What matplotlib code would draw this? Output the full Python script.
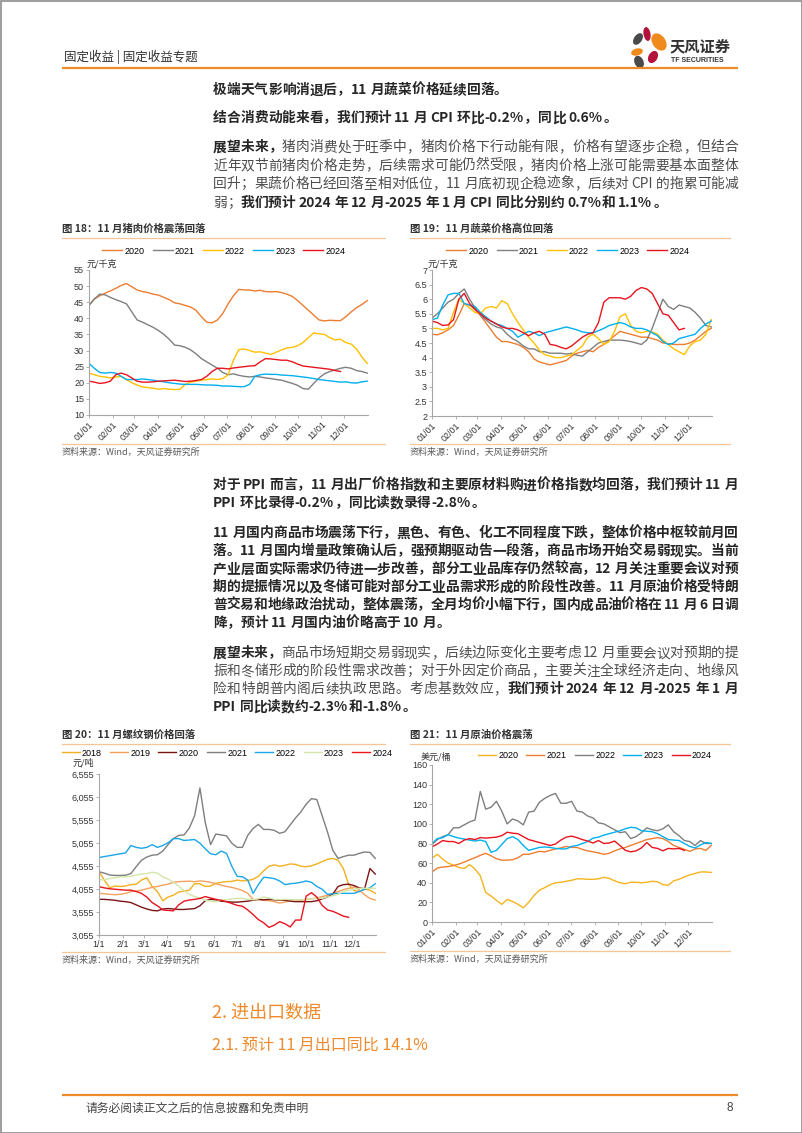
import matplotlib
matplotlib.use('Agg')
import matplotlib.pyplot as plt
from matplotlib.patches import Ellipse, Rectangle

plt.rcParams['font.family'] = ['Liberation Sans', 'Noto Sans CJK SC', 'DejaVu Sans']
CN = ['Noto Sans CJK SC', 'DejaVu Sans']

# ---------------- data ----------------
days = list(range(0, 365, 7))          # weekly samples, day of year
month_days = [0, 31, 59, 90, 120, 151, 181, 212, 243, 273, 304, 334]
month_labels = ['01/01', '02/01', '03/01', '04/01', '05/01', '06/01',
                '07/01', '08/01', '09/01', '10/01', '11/01', '12/01']
steel_month_labels = ['1/1', '2/1', '3/1', '4/1', '5/1', '6/1',
                      '7/1', '8/1', '9/1', '10/1', '11/1', '12/1']

# 图18 猪肉 元/千克
pork_years = ['2020', '2021', '2022', '2023', '2024']
pork_2020 = [44, 46, 47, 47.8, 48.5, 49.3, 50.2, 50.8, 49.8, 48.8, 48.3, 48, 47.5, 47.2, 46.5,
             45.8, 44.8, 44.5, 44, 43.5, 42.5, 40.5, 38.8, 38.6, 39.5, 41.5, 44.5, 47, 49, 48.8,
             48.8, 48.5, 48.7, 48.3, 48.2, 48.3, 48, 47.5, 46.8, 45.5, 44, 42.5, 41, 39.5, 39.2,
             39.4, 39.3, 39.3, 40.5, 42, 43.3, 44.3, 45.5]
pork_2021 = [44, 46, 47.5, 47.3, 46.5, 45.8, 45.2, 44.5, 42, 39.5, 38.8, 38, 37.2, 36.2, 35,
             33.5, 31.7, 31.5, 31, 30.2, 29, 27.5, 26.5, 25.5, 24.5, 23.2, 22.5, 22.8, 22.3, 22,
             21.8, 22, 21.8, 21.5, 21.3, 21, 20.8, 20.3, 19.8, 19.2, 18.2, 18, 19.8, 21.5, 22.8,
             23.5, 24, 24.5, 24.8, 24.5, 23.8, 23.5, 23]
pork_2022 = [23, 22.5, 22, 21.8, 21.5, 21.8, 22, 21, 20, 19.3, 18.7, 18.5, 18.3, 18, 18.2,
             18, 17.9, 18, 19.5, 20.2, 20.5, 20.8, 21, 21.2, 21, 21.3, 22.5, 27, 30.3, 30.5,
             30, 29.5, 29.6, 29.2, 28.8, 29.5, 30.2, 30.8, 31, 31.5, 32.5, 34, 35.5, 35.2, 35,
             34, 33.3, 33.5, 32.5, 32, 30.5, 28, 26]
pork_2023 = [26, 24.5, 23.2, 23, 23.2, 23, 22, 21, 21, 21, 21.2, 21, 20.8, 20.5, 20.3,
             20, 19.8, 19.6, 19.5, 19.5, 19.5, 19.4, 19.3, 19.3, 19.2, 19, 19, 18.9, 18.8, 18.8,
             19.5, 22, 22.5, 22.7, 22.6, 22.6, 22.4, 22.3, 22.2, 22, 21.8, 21.6, 21.3, 21, 20.8,
             20.6, 20.4, 20.2, 20.3, 20, 19.9, 20.3, 20.5]
pork_2024 = [20.5, 20.2, 19.8, 20, 20.5, 22.5, 23, 22.5, 21.5, 20.5, 20.2, 20.2, 20.3, 20.5, 20.6,
             20.7, 20.8, 20.6, 20.4, 20.5, 20.7, 21, 22, 23.5, 24.5, 24.5, 24.3, 24.6, 24.8, 25,
             25.2, 25.3, 26.5, 27.5, 27.4, 27.2, 27, 27, 26.5, 25.8, 25.2, 25, 24.8, 24.6, 24.4,
             24.2, 23.8, 23.5]

# 图19 蔬菜 元/千克
veg_years = ['2020', '2021', '2022', '2023', '2024']
veg_2020 = [4.8, 4.78, 4.85, 4.95, 5.1, 5.45, 5.85, 5.8, 5.65, 5.45, 5.2, 4.95, 4.7, 4.55, 4.55,
            4.5, 4.45, 4.35, 4.2, 3.95, 3.85, 3.8, 3.75, 3.8, 3.85, 3.9, 4.05, 4.15, 4.2, 4.25,
            4.2, 4.35, 4.45, 4.6, 4.75, 4.9, 4.85, 4.8, 4.75, 4.7, 4.7, 4.65, 4.6, 4.5, 4.48,
            4.45, 4.45, 4.45, 4.5, 4.6, 4.75, 4.9, 5.0]
veg_2021 = [5.35, 5.5, 5.7, 5.9, 6.0, 6.2, 6.35, 6.0, 5.7, 5.45, 5.3, 5.15, 5.05, 5.0, 4.8,
            4.65, 4.55, 4.4, 4.3, 4.3, 4.2, 4.2, 4.15, 4.15, 4.15, 4.12, 4.15, 4.08, 4.05, 4.2,
            4.35, 4.5, 4.55, 4.6, 4.6, 4.6, 4.58, 4.55, 4.5, 4.45, 4.6, 5.0, 5.5, 6.0, 5.75,
            5.65, 5.8, 5.75, 5.7, 5.55, 5.35, 5.1, 5.05]
veg_2022 = [5.0, 5.0, 4.95, 5.0, 5.55, 6.0, 5.85, 5.7, 5.55, 5.5, 5.7, 5.75, 5.7, 5.95, 5.85,
            5.5, 5.2, 4.95, 4.7, 4.5, 4.25, 4.1, 4.05, 4.0, 4.0, 4.05, 4.1, 4.25, 4.4, 4.7,
            4.8, 4.65, 4.45, 4.55, 4.9, 5.4, 5.5, 5.1, 4.9, 4.85, 4.9, 4.88, 4.8, 4.6, 4.45,
            4.3, 4.2, 4.1, 4.4, 4.55, 4.6, 4.8, 5.3]
veg_2023 = [5.3, 5.35, 5.8, 6.15, 6.2, 6.2, 5.85, 5.8, 5.75, 5.55, 5.4, 5.25, 5.15, 5.1, 5.0,
            4.9, 4.7, 4.8, 4.9, 4.85, 4.75, 4.85, 4.9, 4.95, 5.0, 5.05, 5.0, 4.95, 4.88, 4.85,
            4.85, 4.92, 5.0, 5.1, 5.15, 5.2, 5.15, 5.05, 5.0, 5.0, 4.95, 4.85, 4.75, 4.55, 4.45,
            4.5, 4.65, 4.7, 4.75, 4.8, 5.0, 5.15, 5.25]
veg_2024 = [5.25, 5.2, 5.1, 5.12, 5.3, 6.0, 6.2, 5.85, 5.65, 5.5, 5.35, 5.25, 5.15, 5.05, 5.0,
            5.0, 4.95, 4.85, 4.75, 4.85, 4.9, 4.8, 4.45, 4.42, 4.35, 4.3, 4.4, 4.55, 4.7, 4.8,
            4.85, 5.2, 5.9, 6.05, 6.05, 6.05, 6.0, 6.1, 6.3, 6.4, 6.35, 6.2, 5.85, 5.5, 5.45,
            5.2, 4.95, 5.0]

# 图20 螺纹钢 元/吨
steel_years = ['2018', '2019', '2020', '2021', '2022', '2023', '2024']
steel_2018 = [4430, 4250, 4080, 4120, 4110, 4120, 4150, 4160, 4250, 4300, 4110, 4000, 3800, 3880, 3920,
              3990, 4010, 4030, 4170, 4170, 4110, 4120, 4180, 4200, 4215, 4220, 4250, 4230, 4240, 4265,
              4330, 4450, 4550, 4580, 4550, 4570, 4600, 4590, 4550, 4540, 4560, 4600, 4650, 4700, 4720,
              4680, 4500, 4150, 4020, 4000, 4050, 4030, 3960]
steel_2019 = [3960, 3950, 3940, 3930, 3940, 3960, 4000, 4010, 4030, 4060, 4090, 4110, 4140, 4160, 4200,
              4215, 4220, 4225, 4215, 4230, 4220, 4200, 4170, 4140, 4110, 4090, 4060, 4020, 3960, 3830,
              3820, 3810, 3800, 3780, 3750, 3770, 3810, 3820, 3810, 3830, 3840, 3860, 3890, 3920, 3960,
              4000, 4040, 4070, 4100, 4030, 3930, 3850, 3815]
steel_2020 = [3830, 3830, 3820, 3810, 3790, 3780, 3760, 3710, 3660, 3620, 3590, 3580, 3620, 3630, 3620,
              3610, 3610, 3620, 3630, 3690, 3800, 3830, 3820, 3790, 3780, 3770, 3770, 3780, 3790, 3810,
              3830, 3820, 3830, 3820, 3810, 3810, 3790, 3780, 3780, 3780, 3780, 3800, 3840, 3880, 3940,
              4110, 4150, 4160, 4130, 4080, 4060, 4500, 4380]
steel_2021 = [4430, 4400, 4360, 4350, 4350, 4355, 4390, 4540, 4680, 4750, 4790, 4800, 4880, 5020, 5150,
              5220, 5230, 5380, 5650, 6250, 5500, 5020, 5250, 5230, 5210, 5050, 4960, 4960, 5220, 5370,
              5460, 5350, 5350, 5330, 5265, 5300, 5450, 5600, 5730, 5900, 6020, 6000, 5650, 5300, 4900,
              4720, 4760, 4790, 4790, 4830, 4860, 4850, 4720]
steel_2022 = [4740, 4760, 4780, 4800, 4820, 4840, 5000, 4960, 4940, 4960, 5020, 4960, 5000, 5060, 5150,
              5150, 5110, 5120, 5130, 5050, 4930, 4820, 4800, 4880, 4830, 4550, 4330, 4320, 4250, 3960,
              4150, 4310, 4300, 4280, 4230, 4150, 4170, 4180, 4200, 4230, 4200, 4110, 4050, 3940, 3950,
              3960, 3960, 3960, 3960, 4000, 4050, 4080, 4170]
steel_2023 = [4250, 4260, 4280, 4300, 4320, 4320, 4330, 4360, 4380, 4390, 4420, 4400, 4320, 4270, 4200,
              4120, 4020, 3940, 3890, 3860, 3810, 3790, 3780, 3815, 3820, 3840, 3850, 3850, 3830, 3820,
              3840, 3880, 3860, 3830, 3820, 3830, 3825, 3820, 3820, 3825, 3840, 3860, 3850, 3880, 3910,
              3940, 4000, 4030, 4050, 4070, 4070, 4070, 4070]
steel_2024 = [4105, 4080, 4060, 4050, 4040, 4030, 4030, 4000, 3960, 3880, 3760, 3690, 3600, 3590, 3580,
              3710, 3790, 3815, 3830, 3850, 3890, 3860, 3830, 3810, 3780, 3740, 3700, 3680, 3600, 3500,
              3390, 3320, 3220, 3270, 3345, 3300, 3230, 3380, 3380, 3900, 3975, 3880, 3700, 3600, 3570,
              3520, 3465, 3440]

# 图21 原油 美元/桶
oil_years = ['2020', '2021', '2022', '2023', '2024']
oil_2020 = [65, 69, 64, 60, 58, 55.5, 54.5, 58.5, 54, 47, 30, 26.5, 22, 18, 23,
            21, 18, 14.5, 20, 27, 32.5, 35, 38, 40, 40.5, 41.5, 42.5, 44, 44, 43.5,
            43.5, 44, 45.5, 44.5, 42, 40, 39, 40.5, 40.5, 40, 40.5, 41.5, 41, 38, 37.5,
            42, 43.5, 46, 48, 49.5, 51, 51, 50.5]
oil_2021 = [51, 55, 56, 56.5, 57.5, 59, 61, 63.5, 65.5, 68, 70, 67.5, 64.5, 63, 63,
            63.5, 65.5, 69, 69, 70.5, 72, 71.5, 73, 74.5, 75.5, 77, 76, 76, 74, 72.5,
            71.5, 70.5, 69, 70, 72.5, 74.5, 76, 78, 80, 82, 84, 85, 86, 85, 82,
            78, 76, 74, 72, 74.5, 75, 73, 78]
oil_2022 = [79, 84, 87, 89, 96, 96, 99, 102, 104, 133, 115, 117, 123, 113, 100,
            105, 103, 99, 112, 113, 122, 126, 129, 131, 121, 121, 123, 113, 112, 108,
            106, 101, 100, 97, 94, 91, 92, 85, 87, 91, 96, 94, 93, 95, 99,
            92, 88, 83, 82, 78, 83, 80, 80]
oil_2023 = [80, 85, 86, 89, 87, 85.5, 84.5, 83.5, 82.5, 83.5, 82, 71, 73, 79, 85,
            87, 84, 78, 73, 74.5, 76, 76.5, 76, 75, 74.5, 74.5, 77, 78, 80, 82,
            85.5, 86.5, 88.5, 90, 91.5, 93, 95, 96.5, 96, 93, 92.5, 92, 90, 87, 84,
            83.5, 83, 80, 77, 75.5, 78.5, 81, 80]
oil_2024 = [76.5, 79.5, 83, 82, 82, 80, 83.5, 85, 84, 86, 85.5, 86, 86.5, 88, 91.5,
            90.5, 90, 87, 84, 82.5, 81, 79.5, 78, 79.5, 83.5, 86.5, 87.5, 86, 84, 82.5,
            80.5, 83, 80, 80.5, 82.5, 78, 73, 71.5, 72.5, 75.5, 81, 76, 75, 72.5, 75,
            74.5, 75, 73]

# ---------------- page ----------------
W, H = 802, 1133
fig = plt.figure(figsize=(W / 100, H / 100), dpi=100)
bg = fig.add_axes([0, 0, 1, 1])
bg.set_xlim(0, W)
bg.set_ylim(H, 0)
bg.axis('off')
renderer = fig.canvas.get_renderer()

BODY = '#4d4d4d'
BOLD = '#262626'
ORANGE = '#EE8A2C'
LIGHT_OR = '#F7C497'

bg.add_patch(Rectangle((0.5, 0.5), W - 1, H - 1, fill=False, ec='#8c8c8c', lw=1.2))


def put_line(yc, segs, justify=True, x0=213, x1=738, size=9.9):
    em = size * 100 / 72
    base = yc + 0.38 * em
    items = []
    for s, b in segs:
        run = ''
        for c in s + '\0':
            if c == ' ' or c == '\0' or ord(c) >= 128:
                if run:
                    t = bg.text(0, base, run, fontsize=size, family=CN,
                                fontweight='bold' if b else 'normal',
                                color=BOLD if b else BODY, va='baseline')
                    items.append((t, t.get_window_extent(renderer).width + 1))
                    run = ''
                if c == ' ':
                    items.append((None, 2.5))
                elif c != '\0':
                    t = bg.text(0, base, c, fontsize=size, family=CN,
                                fontweight='bold' if b else 'normal',
                                color=BOLD if b else BODY, va='baseline')
                    items.append((t, em))
            else:
                run += c
    total = sum(w for _, w in items)
    extra = (x1 - x0 - total) / (len(items) - 1) if justify else 0
    x = x0
    for t, w in items:
        if t is not None:
            t.set_x(x)
        x += w + extra


# header
bg.text(64, 57, '固定收益 | 固定收益专题', fontsize=9, family=CN, color='#333333', va='center')
bg.plot([62, 738], [68, 68], color=ORANGE, lw=1.6, solid_capstyle='butt')
for (cx, cy, w, h, ang, col) in [(638, 39, 8, 13, 35, '#4a4a4a'), (647, 34, 7, 14, -10, '#B3123B'),
                                 (659, 42, 13, 19, -35, '#F08A1C'), (637, 52, 12, 7, -15, '#F08A1C'),
                                 (653, 57, 9, 13, 30, '#B3123B'), (639, 62, 9, 13, -25, '#4a4a4a')]:
    bg.add_patch(Ellipse((cx, cy), w, h, angle=ang, color=col, lw=0))
bg.text(670, 46, '天风证券', fontsize=11, family=CN, fontweight='bold', color='#333333', va='center')
bg.text(671, 61, 'TF SECURITIES', fontsize=5, fontweight='bold', color='#333333', va='center')

# text block 1
put_line(89, [('极端天气影响消退后，11 月蔬菜价格延续回落。', True)], justify=False)
put_line(117, [('结合消费动能来看，我们预计 11 月 CPI 环比-0.2%，同比 0.6%。', True)], justify=False)
put_line(146, [('展望未来，', True), ('猪肉消费处于旺季中，猪肉价格下行动能有限，价格有望逐步企稳，但结合', False)])
put_line(164.5, [('近年双节前猪肉价格走势，后续需求可能仍然受限，猪肉价格上涨可能需要基本面整体', False)])
put_line(183, [('回升；果蔬价格已经回落至相对低位，11 月底初现企稳迹象，后续对 CPI 的拖累可能减', False)])
put_line(201.5, [('弱；', False), ('我们预计 2024 年 12 月-2025 年 1 月 CPI 同比分别约 0.7%和 1.1%。', True)], justify=False)

# text block 2
put_line(484, [('对于 PPI 而言，11 月出厂价格指数和主要原材料购进价格指数均回落，我们预计 11 月', True)])
put_line(502, [('PPI 环比录得-0.2%，同比读数录得-2.8%。', True)], justify=False)
p2 = ['11 月国内商品市场震荡下行，黑色、有色、化工不同程度下跌，整体价格中枢较前月回',
      '落。11 月国内增量政策确认后，强预期驱动告一段落，商品市场开始交易弱现实。当前',
      '产业层面实际需求仍待进一步改善，部分工业品库存仍然较高，12 月关注重要会议对预',
      '期的提振情况以及冬储可能对部分工业品需求形成的阶段性改善。11 月原油价格受特朗',
      '普交易和地缘政治扰动，整体震荡，全月均价小幅下行，国内成品油价格在 11 月 6 日调']
for k, s in enumerate(p2):
    put_line(532 + 18 * k, [(s, True)])
put_line(622, [('降，预计 11 月国内油价略高于 10 月。', True)], justify=False)
put_line(652, [('展望未来，', True), ('商品市场短期交易弱现实，后续边际变化主要考虑 12 月重要会议对预期的提', False)])
put_line(670, [('振和冬储形成的阶段性需求改善；对于外因定价商品，主要关注全球经济走向、地缘风', False)])
put_line(688, [('险和特朗普内阁后续执政思路。考虑基数效应，', False), ('我们预计 2024 年 12 月-2025 年 1 月', True)])
put_line(706, [('PPI 同比读数约-2.3%和-1.8%。', True)], justify=False)

# section headings and footer
bg.text(212, 1013, '2. 进出口数据', fontsize=13, family=CN, color=ORANGE, va='center')
bg.text(212, 1045, '2.1. 预计 11 月出口同比 14.1%', fontsize=11.5, family=CN, color=ORANGE, va='center')
bg.plot([62, 738], [1095, 1095], color=ORANGE, lw=1.6, solid_capstyle='butt')
bg.text(86, 1108, '请务必阅读正文之后的信息披露和免责申明', fontsize=8.5, family=CN, color='#444444', va='center')
bg.text(733, 1108, '8', fontsize=8.5, color='#444444', va='center', ha='right')


def frame(x0, x1, ytitle, ysrc, title):
    bg.text(x0, ytitle, title, fontsize=7.5, family=CN, fontweight='bold', color='#333333', va='center')
    bg.plot([x0, x1], [ytitle + 9, ytitle + 9], color=LIGHT_OR, lw=0.9)
    bg.plot([x0, x1], [ysrc, ysrc], color=LIGHT_OR, lw=0.9)
    bg.text(x0, ysrc + 8, '资料来源：Wind，天风证券研究所', fontsize=6.5, family=CN, color='#595959', va='center')


def chart(l, t, r, b, ylim, yticks, ylabels, xlabels, rot):
    ax = fig.add_axes([l / W, 1 - b / H, (r - l) / W, (b - t) / H])
    ax.patch.set_alpha(0)
    ax.set_xlim(0, 365)
    ax.set_ylim(*ylim)
    ax.set_yticks(yticks)
    ax.set_yticklabels(ylabels)
    ax.set_xticks(month_days)
    ax.set_xticklabels(xlabels)
    for s in ['top', 'right']:
        ax.spines[s].set_visible(False)
    for s in ['left', 'bottom']:
        ax.spines[s].set_color('#A6A6A6')
        ax.spines[s].set_linewidth(0.8)
    ax.tick_params(axis='both', length=2, width=0.6, color='#A6A6A6', labelsize=6.5,
                   labelcolor='#333333', pad=1.5)
    if rot:
        for lab in ax.get_xticklabels():
            lab.set_rotation(45)
            lab.set_ha('right')
            lab.set_rotation_mode('anchor')
    return ax


def legend(ax, cx, cy, ncol, hl):
    ax.legend(loc='center', bbox_to_anchor=(cx, cy), bbox_transform=bg.transData, ncol=ncol,
              frameon=False, fontsize=6.5, handlelength=hl, handletextpad=0.25,
              columnspacing=0.9, borderpad=0, borderaxespad=0)


# 图18
frame(62, 385, 229, 444, '图 18：11 月猪肉价格震荡回落')
ax = chart(89, 270, 368, 415, (10, 55), list(range(10, 56, 5)), [str(v) for v in range(10, 56, 5)],
           month_labels, True)
for yr, vals, col in zip(pork_years, [pork_2020, pork_2021, pork_2022, pork_2023, pork_2024],
                         ['#ED7D31', '#7F7F7F', '#FFC000', '#00B0F0', '#E8141E']):
    ax.plot(days[:len(vals)], vals, color=col, lw=1.0, label=yr)
legend(ax, 224, 251, 5, 2.2)
bg.text(87, 264, '元/千克', fontsize=6.5, family=CN, color='#333333', va='center')

# 图19
frame(410, 730, 229, 444, '图 19：11 月蔬菜价格高位回落')
vt = [2, 2.5, 3, 3.5, 4, 4.5, 5, 5.5, 6, 6.5, 7]
ax = chart(432, 270, 712, 416, (2, 7), vt, ['%g' % v for v in vt], month_labels, True)
for yr, vals, col in zip(veg_years, [veg_2020, veg_2021, veg_2022, veg_2023, veg_2024],
                         ['#ED7D31', '#7F7F7F', '#FFC000', '#00B0F0', '#E8141E']):
    ax.plot(days[:len(vals)], vals, color=col, lw=1.0, label=yr)
legend(ax, 568, 251, 5, 2.2)
bg.text(428, 264, '元/千克', fontsize=6.5, family=CN, color='#333333', va='center')

# 图20
frame(62, 385, 735, 952, '图 20：11 月螺纹钢价格回落')
st = list(range(3055, 6556, 500))
ax = chart(99, 774, 376, 935, (3055, 6555), st, ['{:,}'.format(v) for v in st], steel_month_labels, False)
for yr, vals, col in zip(steel_years,
                         [steel_2018, steel_2019, steel_2020, steel_2021, steel_2022, steel_2023, steel_2024],
                         ['#F2B01E', '#F4A15D', '#7B1416', '#7F7F7F', '#1AA7E8', '#D3E6A8', '#E8141E']):
    ax.plot(days[:len(vals)], vals, color=col, lw=1.0, label=yr)
legend(ax, 227, 753, 7, 2.0)
bg.text(73, 763, '元/吨', fontsize=6.5, family=CN, color='#333333', va='center')

# 图21
frame(410, 730, 735, 951, '图 21：11 月原油价格震荡')
ot = list(range(0, 161, 20))
ax = chart(432, 765, 712, 922, (0, 160), ot, [str(v) for v in ot], month_labels, True)
for yr, vals, col in zip(oil_years, [oil_2020, oil_2021, oil_2022, oil_2023, oil_2024],
                         ['#F5B41E', '#ED7D31', '#7F7F7F', '#00B0F0', '#E8141E']):
    ax.plot(days[:len(vals)], vals, color=col, lw=1.0, label=yr)
legend(ax, 595, 756, 5, 2.0)
bg.text(421, 757, '美元/桶', fontsize=6.5, family=CN, color='#333333', va='center')

fig.savefig('out.png', dpi=100)
